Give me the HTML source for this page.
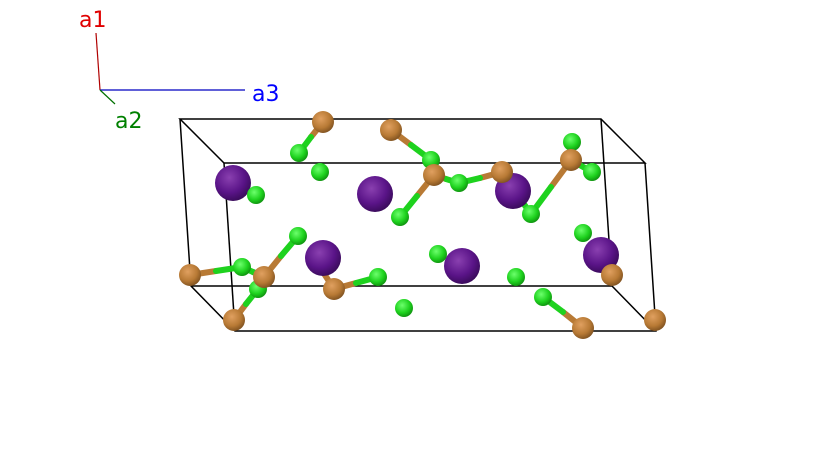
<!DOCTYPE html>
<html><head><style>html,body{margin:0;padding:0;background:#fff;width:837px;height:451px;overflow:hidden}</style></head>
<body>
<svg width="837" height="451" viewBox="0 0 837 451" xmlns="http://www.w3.org/2000/svg">
<defs>
<radialGradient id="b" cx="0.4" cy="0.35" r="0.7"><stop offset="0" stop-color="#e0a060"/><stop offset="0.6" stop-color="#b87a35"/><stop offset="1" stop-color="#7a4e1e"/></radialGradient>
<radialGradient id="g" cx="0.4" cy="0.35" r="0.7"><stop offset="0" stop-color="#6cff6c"/><stop offset="0.6" stop-color="#1ed21e"/><stop offset="1" stop-color="#0e8a0e"/></radialGradient>
<radialGradient id="p" cx="0.4" cy="0.35" r="0.7"><stop offset="0" stop-color="#8a40b0"/><stop offset="0.6" stop-color="#5a1488"/><stop offset="1" stop-color="#360a55"/></radialGradient>
</defs>
<g stroke="#000" stroke-width="1.5" fill="none">
<path d="M180,119 L601,119 L645,163 L224,163 Z"/>
<path d="M180,119 L191,286 L235,331 L656,331 L645,163"/>
<path d="M224,163 L235,331"/>
<path d="M191,286 L612,286 L656,331"/>
<path d="M601,119 L612,286"/>
</g>
<g stroke-width="1.2">
<line x1="100" y1="90" x2="96" y2="33" stroke="#b00000"/>
<line x1="100" y1="90" x2="245" y2="90" stroke="#0000c0"/>
<line x1="100" y1="90" x2="115" y2="104" stroke="#007000"/>
</g>
<g font-family="DejaVu Sans, Liberation Sans, sans-serif" font-size="22">
<text x="79" y="27" fill="#e00000">a1</text>
<text x="252" y="101" fill="#0000ff">a3</text>
<text x="115" y="128" fill="#008000">a2</text>
</g>
<g stroke-width="6" stroke-linecap="round">
<line x1="323" y1="122" x2="311" y2="137" stroke="#b87a35"/><line x1="311" y1="137" x2="299" y2="153" stroke="#1ed21e"/>
<line x1="391" y1="130" x2="411" y2="145" stroke="#b87a35"/><line x1="411" y1="145" x2="431" y2="160" stroke="#1ed21e"/>
<line x1="434" y1="175" x2="446" y2="179" stroke="#b87a35"/><line x1="446" y1="179" x2="459" y2="183" stroke="#1ed21e"/>
<line x1="434" y1="175" x2="417" y2="196" stroke="#b87a35"/><line x1="417" y1="196" x2="400" y2="217" stroke="#1ed21e"/>
<line x1="502" y1="172" x2="480" y2="178" stroke="#b87a35"/><line x1="480" y1="178" x2="459" y2="183" stroke="#1ed21e"/>
<line x1="502" y1="172" x2="516" y2="193" stroke="#b87a35"/><line x1="516" y1="193" x2="531" y2="214" stroke="#1ed21e"/>
<line x1="571" y1="160" x2="551" y2="187" stroke="#b87a35"/><line x1="551" y1="187" x2="531" y2="214" stroke="#1ed21e"/>
<line x1="571" y1="160" x2="592" y2="172" stroke="#1ed21e"/>
<line x1="190" y1="275" x2="216" y2="271" stroke="#b87a35"/><line x1="216" y1="271" x2="242" y2="267" stroke="#1ed21e"/>
<line x1="264" y1="277" x2="281" y2="256" stroke="#b87a35"/><line x1="281" y1="256" x2="298" y2="236" stroke="#1ed21e"/>
<line x1="264" y1="277" x2="253" y2="272" stroke="#333"/><line x1="253" y1="272" x2="242" y2="267" stroke="#1ed21e"/>
<line x1="234" y1="320" x2="246" y2="304" stroke="#b87a35"/><line x1="246" y1="304" x2="258" y2="289" stroke="#1ed21e"/>
<line x1="334" y1="289" x2="356" y2="283" stroke="#b87a35"/><line x1="356" y1="283" x2="378" y2="277" stroke="#1ed21e"/>
<line x1="334" y1="289" x2="323" y2="272" stroke="#b87a35"/>
<line x1="583" y1="328" x2="563" y2="312" stroke="#b87a35"/><line x1="563" y1="312" x2="543" y2="297" stroke="#1ed21e"/>
</g>
<g fill="url(#p)">
<circle cx="233" cy="183" r="18"/><circle cx="375" cy="194" r="18"/><circle cx="513" cy="191" r="18"/>
<circle cx="323" cy="258" r="18"/><circle cx="462" cy="266" r="18"/><circle cx="601" cy="255" r="18"/>
</g>
<g fill="url(#g)">
<circle cx="299" cy="153" r="9"/><circle cx="320" cy="172" r="9"/><circle cx="431" cy="160" r="9"/><circle cx="459" cy="183" r="9"/>
<circle cx="572" cy="142" r="9"/><circle cx="592" cy="172" r="9"/><circle cx="256" cy="195" r="9"/><circle cx="400" cy="217" r="9"/>
<circle cx="531" cy="214" r="9"/><circle cx="583" cy="233" r="9"/><circle cx="298" cy="236" r="9"/><circle cx="242" cy="267" r="9"/>
<circle cx="258" cy="289" r="9"/><circle cx="378" cy="277" r="9"/><circle cx="438" cy="254" r="9"/><circle cx="516" cy="277" r="9"/>
<circle cx="404" cy="308" r="9"/><circle cx="543" cy="297" r="9"/>
</g>
<g fill="url(#b)">
<circle cx="323" cy="122" r="11"/><circle cx="391" cy="130" r="11"/><circle cx="434" cy="175" r="11"/><circle cx="502" cy="172" r="11"/>
<circle cx="571" cy="160" r="11"/><circle cx="190" cy="275" r="11"/><circle cx="264" cy="277" r="11"/><circle cx="334" cy="289" r="11"/>
<circle cx="234" cy="320" r="11"/><circle cx="583" cy="328" r="11"/><circle cx="655" cy="320" r="11"/><circle cx="612" cy="275" r="11"/>
</g>
</svg>
</body></html>
